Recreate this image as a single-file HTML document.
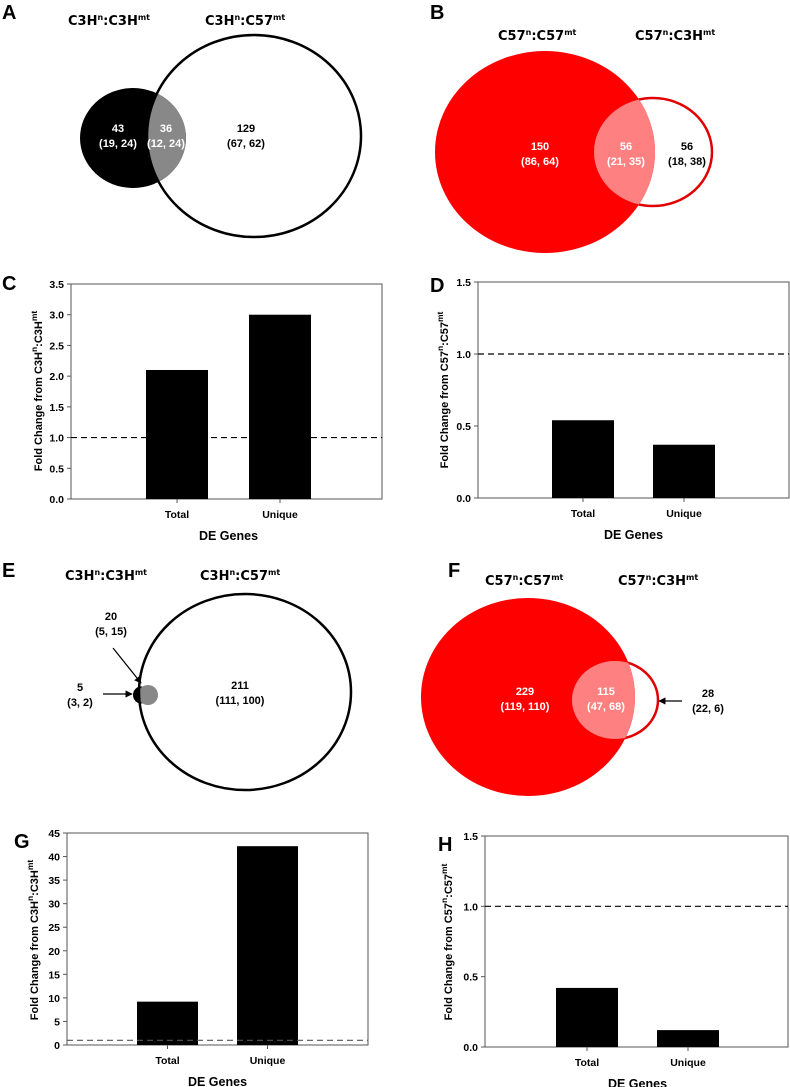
<!DOCTYPE html>
<html><head><meta charset="utf-8"><style>
body{margin:0;background:#fff;}
svg{display:block;font-family:"Liberation Sans",Arial,sans-serif;}
.c{font-family:"DejaVu Sans","Liberation Sans",sans-serif;font-weight:bold;}
.lbl{font-family:"Liberation Sans",sans-serif;font-weight:bold;font-size:11px;}
.pl{font-family:"Liberation Sans",sans-serif;font-weight:bold;font-size:20px;}
</style></head><body>
<svg id="fig" width="790" height="1087" viewBox="0 0 790 1087">
<defs>
<clipPath id="clipA"><ellipse cx="254" cy="136" rx="107" ry="101"/></clipPath>
<clipPath id="clipB"><ellipse cx="653" cy="152" rx="59" ry="54"/></clipPath>
<clipPath id="clipE"><ellipse cx="245" cy="692" rx="106" ry="98"/></clipPath>
<clipPath id="clipF"><ellipse cx="615" cy="700" rx="43" ry="39"/></clipPath>
<marker id="arr" viewBox="0 0 10 10" refX="9" refY="5" markerWidth="6" markerHeight="6" orient="auto"><path d="M0,0 L10,5 L0,10 z" fill="#000"/></marker>
</defs>

<!-- Panel A -->
<g>
<text class="pl" x="2" y="19">A</text>
<text class="c" x="68" y="25" font-size="13">C3H<tspan font-size="8" dy="-5">n</tspan><tspan dy="5">:C3H</tspan><tspan font-size="8" dy="-5">mt</tspan></text>
<text class="c" x="205" y="25" font-size="13">C3H<tspan font-size="8" dy="-5">n</tspan><tspan dy="5">:C57</tspan><tspan font-size="8" dy="-5">mt</tspan></text>
<ellipse cx="133" cy="138" rx="53" ry="50" fill="#000"/>
<ellipse cx="133" cy="138" rx="53" ry="50" fill="#888" clip-path="url(#clipA)"/>
<ellipse cx="254" cy="136" rx="107" ry="101" fill="none" stroke="#000" stroke-width="2.5"/>
<text class="lbl" x="118" y="132" text-anchor="middle" fill="#fff">43</text>
<text class="lbl" x="118" y="147" text-anchor="middle" fill="#fff">(19, 24)</text>
<text class="lbl" x="166" y="132" text-anchor="middle" fill="#fff">36</text>
<text class="lbl" x="166" y="147" text-anchor="middle" fill="#fff">(12, 24)</text>
<text class="lbl" x="246" y="132" text-anchor="middle">129</text>
<text class="lbl" x="246" y="147" text-anchor="middle">(67, 62)</text>
</g>

<!-- Panel B -->
<g>
<text class="pl" x="430" y="19">B</text>
<text class="c" x="498" y="40" font-size="13">C57<tspan font-size="8" dy="-5">n</tspan><tspan dy="5">:C57</tspan><tspan font-size="8" dy="-5">mt</tspan></text>
<text class="c" x="635" y="40" font-size="13">C57<tspan font-size="8" dy="-5">n</tspan><tspan dy="5">:C3H</tspan><tspan font-size="8" dy="-5">mt</tspan></text>
<ellipse cx="653" cy="152" rx="59" ry="54" fill="#fff" stroke="#e00000" stroke-width="2.5"/>
<ellipse cx="545" cy="152" rx="110" ry="101" fill="#ff0000"/>
<ellipse cx="545" cy="152" rx="110" ry="101" fill="#ff8080" clip-path="url(#clipB)"/>
<text class="lbl" x="540" y="150" text-anchor="middle" fill="#fff">150</text>
<text class="lbl" x="540" y="165" text-anchor="middle" fill="#fff">(86, 64)</text>
<text class="lbl" x="626" y="150" text-anchor="middle" fill="#fff">56</text>
<text class="lbl" x="626" y="165" text-anchor="middle" fill="#fff">(21, 35)</text>
<text class="lbl" x="687" y="150" text-anchor="middle">56</text>
<text class="lbl" x="687" y="165" text-anchor="middle">(18, 38)</text>
</g>

<!-- Panel E -->
<g>
<text class="pl" x="2" y="577">E</text>
<text class="c" x="65" y="580" font-size="13">C3H<tspan font-size="8" dy="-5">n</tspan><tspan dy="5">:C3H</tspan><tspan font-size="8" dy="-5">mt</tspan></text>
<text class="c" x="200" y="580" font-size="13">C3H<tspan font-size="8" dy="-5">n</tspan><tspan dy="5">:C57</tspan><tspan font-size="8" dy="-5">mt</tspan></text>
<ellipse cx="141" cy="695" rx="8" ry="8.5" fill="#000"/>
<ellipse cx="148" cy="695" rx="10" ry="10" fill="#888" clip-path="url(#clipE)"/>
<ellipse cx="245" cy="692" rx="106" ry="98" fill="none" stroke="#000" stroke-width="2.5"/>
<line x1="113" y1="648" x2="141" y2="683" stroke="#000" stroke-width="1.2" marker-end="url(#arr)"/>
<line x1="103" y1="694" x2="132" y2="694" stroke="#000" stroke-width="1.2" marker-end="url(#arr)"/>
<text class="lbl" x="111" y="620" text-anchor="middle">20</text>
<text class="lbl" x="111" y="635" text-anchor="middle">(5, 15)</text>
<text class="lbl" x="80" y="691" text-anchor="middle">5</text>
<text class="lbl" x="80" y="706" text-anchor="middle">(3, 2)</text>
<text class="lbl" x="240" y="689" text-anchor="middle">211</text>
<text class="lbl" x="240" y="704" text-anchor="middle">(111, 100)</text>
</g>

<!-- Panel F -->
<g>
<text class="pl" x="448" y="577">F</text>
<text class="c" x="485" y="585" font-size="13">C57<tspan font-size="8" dy="-5">n</tspan><tspan dy="5">:C57</tspan><tspan font-size="8" dy="-5">mt</tspan></text>
<text class="c" x="618" y="585" font-size="13">C57<tspan font-size="8" dy="-5">n</tspan><tspan dy="5">:C3H</tspan><tspan font-size="8" dy="-5">mt</tspan></text>
<ellipse cx="615" cy="700" rx="43" ry="39" fill="#fff" stroke="#e00000" stroke-width="2.5"/>
<ellipse cx="528" cy="697" rx="107" ry="99" fill="#ff0000"/>
<ellipse cx="528" cy="697" rx="107" ry="99" fill="#ff8080" clip-path="url(#clipF)"/>
<line x1="682" y1="701" x2="659" y2="701" stroke="#000" stroke-width="1.2" marker-end="url(#arr)"/>
<text class="lbl" x="525" y="695" text-anchor="middle" fill="#fff">229</text>
<text class="lbl" x="525" y="710" text-anchor="middle" fill="#fff">(119, 110)</text>
<text class="lbl" x="606" y="695" text-anchor="middle" fill="#fff">115</text>
<text class="lbl" x="606" y="710" text-anchor="middle" fill="#fff">(47, 68)</text>
<text class="lbl" x="708" y="697" text-anchor="middle">28</text>
<text class="lbl" x="708" y="712" text-anchor="middle">(22, 6)</text>
</g>
<g id="charts"></g>
</svg>
<script>
const categories = ["Total", "Unique"];
const valuesC = [2.1, 3.0];
const ticksC = [0, 0.5, 1.0, 1.5, 2.0, 2.5, 3.0, 3.5];
const valuesD = [0.54, 0.37];
const ticksD = [0, 0.5, 1.0, 1.5];
const valuesG = [9.2, 42.2];
const ticksG = [0, 5, 10, 15, 20, 25, 30, 35, 40, 45];
const valuesH = [0.42, 0.12];
const ticksH = [0, 0.5, 1.0, 1.5];
const refLine = 1.0;

const NS = "http://www.w3.org/2000/svg";
const root = document.getElementById("charts");
function mk(tag, attrs, parent, txt) {
  const e = document.createElementNS(NS, tag);
  for (const k in attrs) e.setAttribute(k, attrs[k]);
  if (txt !== undefined) e.textContent = txt;
  parent.appendChild(e);
  return e;
}
function chart(id, box, vals, ticks, dec, barX, barW, yTitle, sup1, sup2, dashColor, letter, letterPos) {
  const g = mk("g", {}, root);
  
  
  const ymax = ticks[ticks.length - 1];
  const y = v => box.b - (v / ymax) * (box.b - box.t);
  const lt = mk("text", {x: letterPos[0], y: letterPos[1], class: "pl"}, g, letter);
  
  
  mk("rect", {x: box.l, y: box.t, width: box.r - box.l, height: box.b - box.t, fill: "none", stroke: "#555", "stroke-width": 1}, g);
  ticks.forEach(t => {
    mk("line", {x1: box.l - 4, x2: box.l, y1: y(t), y2: y(t), stroke: "#555"}, g);
    const tl = mk("text", {x: box.l - 7, y: y(t) + 4, "text-anchor": "end", "font-size": 10.5, "font-weight": "bold"}, g, t.toFixed(dec));
    
    
  });
  vals.forEach((v, i) => {
    const b = mk("rect", {x: barX[i], y: y(v), width: barW, height: box.b - y(v), fill: "#000"}, g);
    
    
    const cx = barX[i] + barW / 2;
    mk("line", {x1: cx, x2: cx, y1: box.b, y2: box.b + 4, stroke: "#555"}, g);
    const xl = mk("text", {x: cx, y: box.b + 19, "text-anchor": "middle", "font-size": 10.5, "font-weight": "bold"}, g, categories[i]);
    
    
  });
  const dl = mk("line", {x1: box.l, x2: box.r, y1: y(refLine), y2: y(refLine), stroke: dashColor, "stroke-width": 1.2, "stroke-dasharray": "6,4"}, g);
  
  
  const xt = mk("text", {x: (barX[0] + barX[1] + barW) / 2, y: box.b + 41, "text-anchor": "middle", "font-size": 12.5, "font-weight": "bold"}, g, "DE Genes");
  
  
  const ty = mk("text", {x: 0, y: 0, "text-anchor": "middle", "font-size": 11, "font-weight": "bold", transform: `translate(${yTitle[0]},${yTitle[1]}) rotate(-90)`}, g);
  
  
  mk("tspan", {}, ty, "Fold Change from " + sup1);
  mk("tspan", {"font-size": 8.5, dy: -5}, ty, "n");
  mk("tspan", {dy: 5}, ty, ":" + sup2);
  mk("tspan", {"font-size": 8.5, dy: -5}, ty, "mt");
}
chart("c", {l: 71, r: 382, t: 284, b: 499}, valuesC, ticksC, 1, [146, 249], 62, [42, 391], "C3H", "C3H", "#000", "C", [2, 290]);
chart("d", {l: 478, r: 789, t: 282, b: 498}, valuesD, ticksD, 1, [552, 653], 62, [448, 390], "C57", "C57", "#000", "D", [430, 292]);
chart("g", {l: 67, r: 368, t: 833, b: 1045}, valuesG, ticksG, 0, [137, 237], 61, [38, 940], "C3H", "C3H", "#555", "G", [14, 848]);
chart("h", {l: 485, r: 788, t: 836, b: 1047}, valuesH, ticksH, 1, [556, 657], 62, [452, 942], "C57", "C57", "#000", "H", [438, 851]);
</script>
</body></html>
